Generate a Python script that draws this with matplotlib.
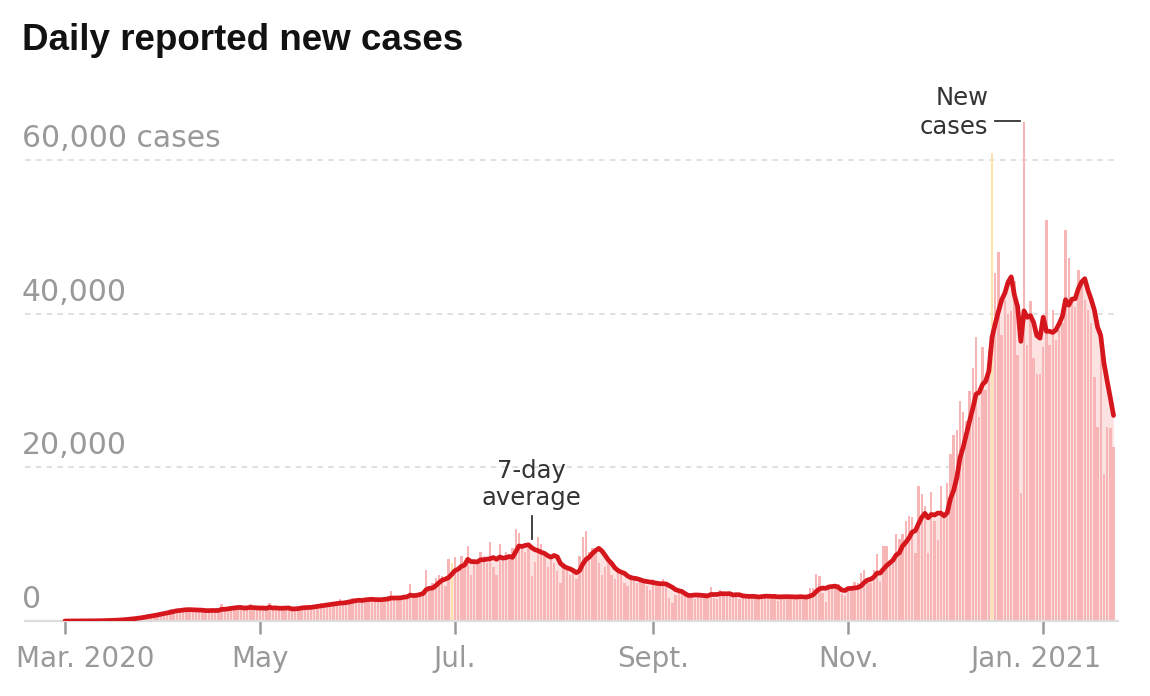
import numpy as np
import pandas as pd
import matplotlib.pyplot as plt
import matplotlib.transforms as mtransforms

# daily reported new cases, one value per day from Mar. 1 2020
mar = [0, 2, 8, 10, 20, 15, 24, 20, 28, 45, 40, 70, 90, 95, 110, 140, 160, 200, 260, 320,
       370, 400, 480, 520, 640, 760, 900, 850, 780, 1100, 1200]
apr = [1200, 1300, 1500, 1600, 1450, 1300, 1650, 1500, 1350, 1400, 1500, 1250, 1200, 1300, 1450,
       1500, 1350, 1600, 2200, 1300, 1750, 1800, 1900, 1750, 1650, 1700, 1400, 2200, 1550, 1700]
may = [1600, 1700, 1400, 2400, 1500, 1650, 1300, 1750, 1800, 1500, 1450, 1700, 1800, 1900, 2000,
       1900, 1700, 1900, 2200, 2300, 2200, 2400, 2300, 2100, 2200, 2800, 2400, 2600, 2900, 3000, 2700]
jun = [2500, 2600, 3000, 2900, 3100, 2700, 2600, 2500, 3000, 3200, 3900, 3000, 2800, 2700, 3100,
       3300, 4800, 3400, 3300, 3500, 3600, 6700, 4500, 5000, 5600, 6000, 5800, 4600, 8100, 7500]
jul = [8300, 7000, 8500, 7000, 9800, 6000, 7500, 8000, 9000, 8500, 7500, 10300, 7000, 6000, 10000,
       8000, 9000, 8500, 9500, 12000, 11400, 9500, 9000, 9500, 5900, 7700, 11000, 10000, 8500, 7000, 8000]
aug = [7500, 6500, 5000, 7500, 7000, 6000, 6500, 5500, 8500, 11000, 11700, 9000, 9500, 9000, 7500,
       6000, 7000, 7500, 6000, 5500, 6500, 6000, 5000, 4500, 6000, 5500, 5000, 5500, 5000, 4500, 4000]
sep = [5500, 5000, 4500, 5500, 4800, 3000, 2400, 3400, 4000, 3800, 3500, 3200, 3000, 2800, 3400,
       3700, 3500, 3300, 4400, 3000, 2900, 4100, 3600, 3500, 3400, 3200, 3300, 2800, 3100, 3300]
oct_ = [3300, 3500, 3000, 2900, 3200, 3400, 3300, 3100, 3500, 2600, 3000, 3300, 3400, 3200, 3100,
        3300, 2900, 2700, 3200, 4300, 4300, 6100, 5800, 3600, 2500, 4500, 4700, 4600, 4800, 3500, 3200]
nov = [4300, 4600, 5100, 5000, 6200, 6600, 5500, 5000, 6600, 8700, 5100, 9700, 9800, 8000, 7500,
       11300, 10700, 11300, 13000, 13700, 13500, 8800, 17600, 16500, 15000, 8900, 16800, 13000, 10500, 17600]
dec = [14000, 18000, 21700, 24200, 24900, 28600, 27200, 26000, 30000, 33000, 37000, 26600, 35700,
       30100, 35300, 60900, 45300, 48100, 37200, 41800, 40000, 40300, 44300, 34600, 16600, 65000,
       35900, 41600, 34200, 32200, 32200]
jan = [35700, 52200, 35900, 40500, 36600, 37900, 38800, 50900, 47200, 41400, 40900, 45700, 44000,
       41800, 40500, 38800, 31800, 25300, 37900, 19200, 25300, 25100, 22700]

cases = mar + apr + may + jun + jul + aug + sep + oct_ + nov + dec + jan
dates = pd.date_range("2020-03-01", periods=len(cases), freq="D")

# days drawn in yellow
flagged_days = ["2020-06-30", "2020-12-16"]

tick_dates = ["2020-03-01", "2020-05-01", "2020-07-01", "2020-09-01", "2020-11-01", "2021-01-01"]
tick_labels = ["Mar. 2020", "May", "Jul.", "Sept.", "Nov.", "Jan. 2021"]
grid_values = [0, 20000, 40000, 60000]
grid_labels = ["0", "20,000", "40,000", "60,000 cases"]
avg_label_day = "2020-07-25"

avg = pd.Series(cases).rolling(7, min_periods=1).mean().values

fig = plt.figure(figsize=(11.5, 6.96), dpi=100)
ax = fig.add_axes([25 / 1150, 75 / 696, 1093 / 1150, 507 / 696])

flagged = pd.to_datetime(flagged_days)
colors = ["#fde2aa" if d in flagged else "#f7b5b5" for d in dates]

ax.fill_between(dates, avg, color="#fde2e2", lw=0, zorder=1)
ax.bar(dates, cases, width=0.74, color=colors, lw=0, zorder=2)
ax.plot(dates, avg, color="#d5161c", lw=3.4, solid_capstyle="round",
        solid_joinstyle="round", zorder=4)

for v, lab in zip(grid_values, grid_labels):
    if v > 0:
        ax.axhline(v, color="#dddddd", lw=1.3, ls=(0, (3, 3)), zorder=0)
    ax.text(-0.003, v + 1700, lab, transform=ax.get_yaxis_transform(),
            ha="left", va="baseline", fontsize=21.5, color="#999999")

ax.set_xlim(dates[0] - pd.Timedelta(days=12.5), dates[-1] + pd.Timedelta(days=1.4))
ax.set_ylim(0, 66000)

for s in ["top", "right", "left"]:
    ax.spines[s].set_visible(False)
ax.spines["bottom"].set_color("#dddddd")
ax.spines["bottom"].set_linewidth(1.6)
ax.set_yticks([])
ax.set_xticks(pd.to_datetime(tick_dates))
ax.set_xticklabels(tick_labels)
ax.tick_params(axis="x", length=9, width=1.8, color="#999999", labelsize=20,
               labelcolor="#999999", pad=8)

# first and last date labels sit a little inside the frame
labs = ax.get_xticklabels()
labs[0].set_transform(labs[0].get_transform() +
                      mtransforms.ScaledTranslation(0.2, 0, fig.dpi_scale_trans))
labs[-1].set_transform(labs[-1].get_transform() +
                       mtransforms.ScaledTranslation(-0.07, 0, fig.dpi_scale_trans))

# 7-day average label
pk = pd.Timestamp(avg_label_day)
ax.plot([pk, pk], [10700, 13700], color="#333333", lw=1.3, zorder=5)
ax.text(pk, 14400, "7-day\naverage", ha="center", va="bottom", fontsize=17.5,
        color="#333333", linespacing=1.2)

# new cases label, pointing at the biggest day
sp = dates[int(np.argmax(cases))]
ax.plot([sp - pd.Timedelta(days=9), sp - pd.Timedelta(days=1.3)], [65100, 65100],
        color="#333333", lw=1.3, zorder=5)
ax.text(sp - pd.Timedelta(days=11.2), 62800, "New\ncases", ha="right", va="bottom",
        fontsize=17.5, color="#333333", linespacing=1.25)

fig.text(22 / 1150, 1 - 50 / 696, "Daily reported new cases", fontsize=26.5,
         fontweight="bold", family="Liberation Sans", va="baseline", color="#121212")

fig.savefig("out.png", dpi=100)
